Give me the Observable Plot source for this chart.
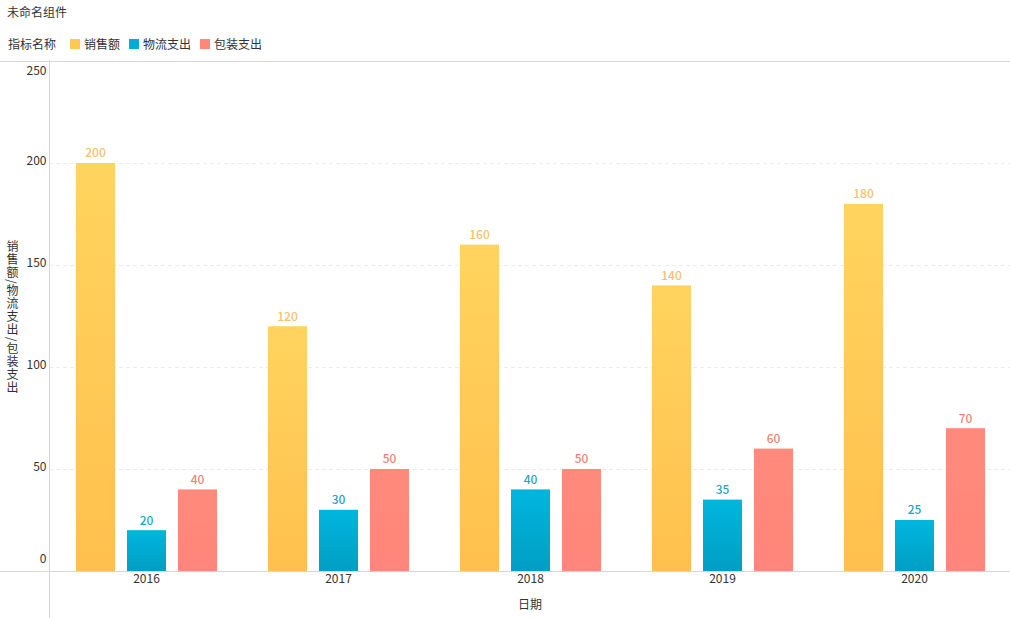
<!DOCTYPE html>
<html><head><meta charset="utf-8">
<script src="https://cdn.jsdelivr.net/npm/d3@7"></script>
<script src="https://cdn.jsdelivr.net/npm/@observablehq/plot@0.6"></script>
<style>
body{margin:0;background:#fff;font-family:"Microsoft YaHei","Noto Sans CJK SC",sans-serif;color:#333;}
#wrap{position:relative;width:1010px;height:618px;overflow:hidden;background:#fff}
#title{position:absolute;left:7px;top:3px;font-size:12px;line-height:18px;}
#legend{position:absolute;left:8px;top:35px;font-size:12px;line-height:18px;display:flex;align-items:center;white-space:nowrap}
#legend .sw{display:inline-block;width:10px;height:10px;margin-right:4px}
#legend .it{display:inline-flex;align-items:center;margin-right:9px}
#ylab{position:absolute;left:4px;top:240px;font-size:12px;line-height:16px;letter-spacing:1px;writing-mode:vertical-rl;text-orientation:mixed;font-family:"Noto Sans CJK SC",sans-serif;white-space:nowrap}
#chart{position:absolute;left:0;top:60px}
</style></head>
<body><div id="wrap">
<div id="title"></div>
<div id="legend"></div>
<div id="ylab"></div>
<div id="chart"></div>
</div>
<script>
const titleText = "未命名组件";
const legendTitle = "指标名称";
const xLabel = "日期";
const yLabel = "销售额/物流支出/包装支出";
const years = ["2016","2017","2018","2019","2020"];
const seriesNames = ["销售额","物流支出","包装支出"];
const sales = [200,120,160,140,180];
const logistics = [20,30,40,35,25];
const packaging = [40,50,50,60,70];
const yTicks = [0,50,100,150,200,250];

const seriesValues = [sales, logistics, packaging];
const barColors = ["#FFC94F","#00ADD4","#FF877A"];
const gradTop = ["#FFD45E","#00B6DE","#FF8A7B"];
const gradBottom = ["#FFC04C","#009EC3","#FF867A"];
const labelColors = ["#F2C26E","#1EA5C4","#EC8379"];
const insets = [[26,127],[77,76],[128,25]];
const dxs = [-51,0,51];

document.getElementById("title").textContent = titleText;
document.getElementById("ylab").textContent = yLabel;
const leg = document.getElementById("legend");
const lt = document.createElement("span"); lt.textContent = legendTitle; lt.style.marginRight = "14px"; leg.appendChild(lt);
seriesNames.forEach((n,i)=>{
  const it=document.createElement("span"); it.className="it";
  const sw=document.createElement("span"); sw.className="sw"; sw.style.background=barColors[i];
  const t=document.createElement("span"); t.textContent=n;
  it.appendChild(sw); it.appendChild(t); leg.appendChild(it);
});

const rowsBy = seriesNames.map((s,i)=>years.map((y,j)=>({year:y, series:s, value:seriesValues[i][j]})));

const marks = [
  Plot.gridY(yTicks.slice(1,5), {stroke:"#ececec", strokeOpacity:1, strokeDasharray:"4,3"}),
  Plot.ruleY([0], {stroke:"#d6d6d6", insetLeft:-49}),
  Plot.ruleY([250], {stroke:"#d6d6d6", insetLeft:-49}),
  Plot.frame({anchor:"left", stroke:"#d6d6d6", insetBottom:-47, insetTop:-1}),
];
rowsBy.forEach((rows,i)=>{
  marks.push(Plot.barY(rows, {x:"year", y:"value", fill:`url(#grad${i})`, insetLeft:insets[i][0], insetRight:insets[i][1]}));
  marks.push(Plot.text(rows, {x:"year", y:"value", text:d=>String(d.value), dx:dxs[i], dy:-10, fill:labelColors[i], fontSize:12, fontWeight:500}));
});
marks.push(
  Plot.axisY(yTicks.slice(1,5), {tickSize:0, tickPadding:3, dy:-2, label:null, fill:"#333"}),
  Plot.axisY([yTicks[0]], {tickSize:0, tickPadding:3, dy:-12, label:null, fill:"#333"}),
  Plot.axisY([yTicks[5]], {tickSize:0, tickPadding:3, dy:10, label:null, fill:"#333"}),
  Plot.axisX({tickSize:0, tickPadding:3, label:null, fill:"#333"}),
  Plot.text([xLabel], {frameAnchor:"bottom", text:d=>d, dy:37, fill:"#333", fontSize:12})
);

const chart = Plot.plot({
  width:1010, height:558,
  marginTop:1, marginBottom:47, marginLeft:49, marginRight:0,
  style:{fontFamily:'"Microsoft YaHei","Noto Sans CJK SC",sans-serif', fontSize:"12px", background:"transparent", overflow:"visible", color:"#333"},
  x:{domain:years, padding:0},
  y:{domain:[0,250]},
  marks
});
const defs = d3.select(chart).insert("defs", ":first-child");
barColors.forEach((c,i)=>{
  const g = defs.append("linearGradient").attr("id",`grad${i}`).attr("x1",0).attr("y1",0).attr("x2",0).attr("y2",1);
  g.append("stop").attr("offset","0%").attr("stop-color",gradTop[i]);
  g.append("stop").attr("offset","100%").attr("stop-color",gradBottom[i]);
});
document.getElementById("chart").appendChild(chart);
</script>
</body></html>
